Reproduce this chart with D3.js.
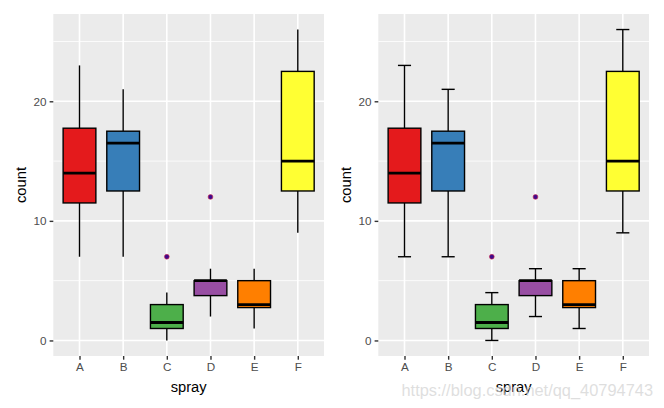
<!DOCTYPE html>
<html>
<head>
<meta charset="utf-8">
<script src="https://cdn.jsdelivr.net/npm/d3@7"></script>
<style>
  html, body { margin: 0; padding: 0; background: #fff; }
  svg { display: block; }
</style>
</head>
<body>
<svg id="chart" width="664" height="408"></svg>
<script>
const categories = ["A", "B", "C", "D", "E", "F"];
const whiskerLow = [7, 7, 0, 2, 1, 9];
const q1 = [11.5, 12.5, 1, 3.75, 2.75, 12.5];
const median = [14, 16.5, 1.5, 5, 3, 15];
const q3 = [17.75, 17.5, 3, 5, 5, 22.5];
const whiskerHigh = [23, 21, 4, 6, 6, 26];
const outliers = [[], [], [7], [12], [], []];
const fills = ["#E41A1C", "#377EB8", "#4DAF4A", "#984EA3", "#FF7F00", "#FFFF33"];
const yTicks = [0, 10, 20];
const yMinor = [5, 15, 25];

const svg = d3.select("#chart");
const font = "Liberation Sans, Arial, sans-serif";

const panels = [
  { left: 53.3, right: 324, caps: false },
  { left: 378.3, right: 649, caps: true }
];
const panelTop = 14, panelBottom = 356;

const y = d3.scaleLinear().domain([-1.3, 27.3]).range([panelBottom, panelTop]);

panels.forEach(p => {
  const g = svg.append("g");
  const xp = d3.scalePoint().domain(categories).range([p.left, p.right]).padding(0.6);
  const step = xp.step();

  g.append("rect").attr("x", p.left).attr("y", panelTop)
    .attr("width", p.right - p.left).attr("height", panelBottom - panelTop).attr("fill", "#EBEBEB");

  g.selectAll(".minor").data(yMinor).enter().append("line")
    .attr("x1", p.left).attr("x2", p.right)
    .attr("y1", d => y(d)).attr("y2", d => y(d))
    .attr("stroke", "#fff").attr("stroke-width", 0.8);
  g.selectAll(".major").data(yTicks).enter().append("line")
    .attr("x1", p.left).attr("x2", p.right)
    .attr("y1", d => y(d)).attr("y2", d => y(d))
    .attr("stroke", "#fff").attr("stroke-width", 1.6);
  g.selectAll(".vgrid").data(categories).enter().append("line")
    .attr("x1", d => xp(d)).attr("x2", d => xp(d))
    .attr("y1", panelTop).attr("y2", panelBottom)
    .attr("stroke", "#fff").attr("stroke-width", 1.6);

  const boxW = step * 0.75;
  const capW = step * 0.3;

  categories.forEach((c, i) => {
    const cx = xp(c);
    g.append("line").attr("x1", cx).attr("x2", cx)
      .attr("y1", y(whiskerLow[i])).attr("y2", y(q1[i]))
      .attr("stroke", "#000").attr("stroke-width", 1.4);
    g.append("line").attr("x1", cx).attr("x2", cx)
      .attr("y1", y(q3[i])).attr("y2", y(whiskerHigh[i]))
      .attr("stroke", "#000").attr("stroke-width", 1.4);
    if (p.caps) {
      [whiskerLow[i], whiskerHigh[i]].forEach(v => {
        g.append("line").attr("x1", cx - capW / 2).attr("x2", cx + capW / 2)
          .attr("y1", y(v)).attr("y2", y(v))
          .attr("stroke", "#000").attr("stroke-width", 1.4);
      });
    }
    g.append("rect").attr("x", cx - boxW / 2).attr("width", boxW)
      .attr("y", y(q3[i])).attr("height", y(q1[i]) - y(q3[i]))
      .attr("fill", fills[i]).attr("stroke", "#000").attr("stroke-width", 1.4);
    g.append("line").attr("x1", cx - boxW / 2).attr("x2", cx + boxW / 2)
      .attr("y1", y(median[i])).attr("y2", y(median[i]))
      .attr("stroke", "#000").attr("stroke-width", 2.8);
    outliers[i].forEach(v => {
      g.append("circle").attr("cx", cx).attr("cy", y(v)).attr("r", 2.4)
        .attr("fill", "#3F0A8C").attr("stroke", "#D0204A").attr("stroke-width", 0.6);
    });
  });

  const yAxis = g.append("g").attr("transform", `translate(${p.left},0)`)
    .call(d3.axisLeft(y).tickValues(yTicks).tickSize(3.7).tickPadding(3));
  yAxis.select(".domain").remove();
  yAxis.selectAll(".tick line").attr("stroke", "#333333").attr("stroke-width", 1.4);
  yAxis.selectAll(".tick text").attr("fill", "#4D4D4D").style("font-family", font).style("font-size", "11.7px");

  const xAxis = g.append("g").attr("transform", `translate(0,${panelBottom})`)
    .call(d3.axisBottom(xp).tickSize(3.7).tickPadding(3));
  xAxis.select(".domain").remove();
  xAxis.selectAll(".tick line").attr("stroke", "#333333").attr("stroke-width", 1.4);
  xAxis.selectAll(".tick text").attr("fill", "#4D4D4D").style("font-family", font).style("font-size", "11.7px");

  g.append("text").attr("x", (p.left + p.right) / 2).attr("y", 392)
    .attr("text-anchor", "middle").style("font-family", font).style("font-size", "14.7px")
    .attr("fill", "#000").text("spray");
  g.append("text").attr("transform", `translate(${p.left - 27},${(panelTop + panelBottom) / 2}) rotate(-90)`)
    .attr("text-anchor", "middle").style("font-family", font).style("font-size", "14.7px")
    .attr("fill", "#000").text("count");
});

svg.append("text").attr("x", 653).attr("y", 396).attr("text-anchor", "end")
  .style("font-family", font).style("font-size", "16.4px")
  .attr("fill", "#D4D4D4").attr("fill-opacity", 0.75)
  .text("https://blog.csdn.net/qq_40794743");
</script>
</body>
</html>
